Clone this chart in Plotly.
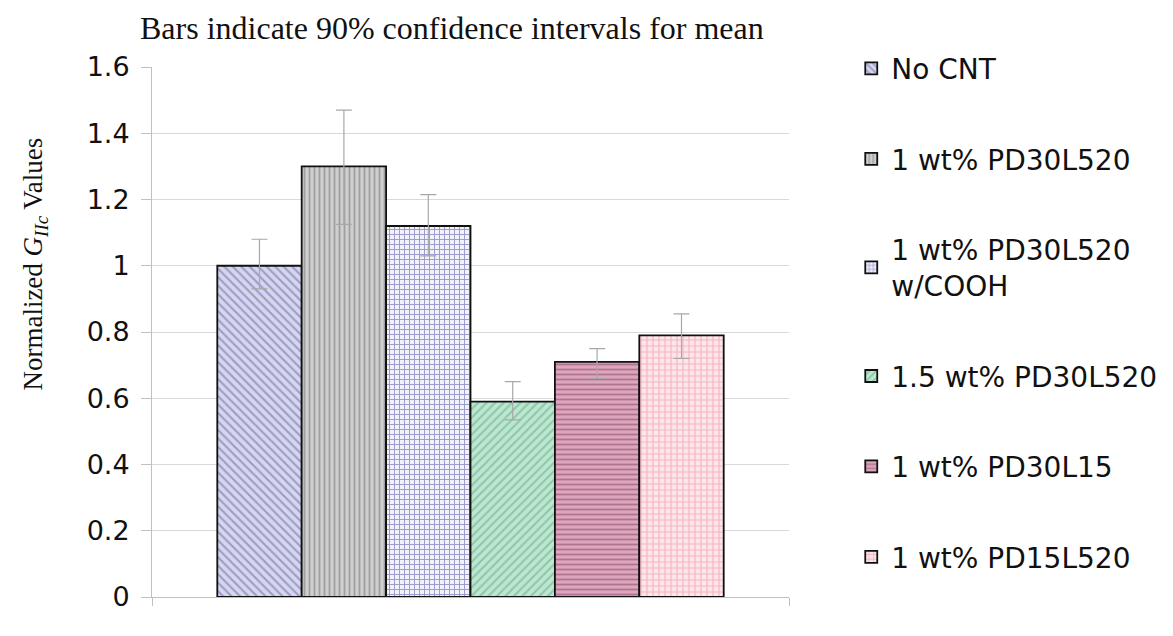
import plotly.graph_objects as go

categories = [0]
series_names = ["No CNT", "1 wt% PD30L520", "1 wt% PD30L520<br>w/COOH",
                "1.5 wt% PD30L520", "1 wt% PD30L15", "1 wt% PD15L520"]
means = [1.00, 1.30, 1.12, 0.59, 0.71, 0.79]
ci_plus = [0.08, 0.17, 0.095, 0.06, 0.04, 0.065]
ci_minus = [0.07, 0.175, 0.09, 0.055, 0.05, 0.07]
y_ticks = [0, 0.2, 0.4, 0.6, 0.8, 1, 1.2, 1.4, 1.6]

bg_colors = ["#d6d6ec", "#cfcfcf", "#f2f2fb", "#bfe6d2", "#dba6be", "#fde6ea"]
fg_colors = ["#9c9cc8", "#9e9e9e", "#9a9acc", "#8acaa8", "#b3728f", "#f5b5c0"]
shapes = ["\\", "|", "+", "/", "-", "+"]
sizes = [6, 5, 5, 6, 5, 6]

fig = go.Figure()
for i, name in enumerate(series_names):
    fig.add_trace(go.Bar(
        x=categories, y=[means[i]], name=name, legendgroup=str(i),
        marker=dict(
            color=bg_colors[i],
            line=dict(color="#111111", width=1.8),
            pattern=dict(shape=shapes[i], bgcolor=bg_colors[i], fgcolor=fg_colors[i],
                         size=sizes[i], solidity=0.35, fillmode="replace"),
        ),
        error_y=dict(type="data", symmetric=False, array=[ci_plus[i]], arrayminus=[ci_minus[i]],
                     color="#a8a8a8", thickness=1.2, width=8),
    ))

fig.update_layout(
    width=1165, height=628,
    paper_bgcolor="white", plot_bgcolor="white",
    margin=dict(l=144, r=383, t=59, b=39),
    barmode="group", bargap=0.205, bargroupgap=0,
    title=dict(text="Bars indicate 90% confidence intervals for mean",
               font=dict(family="Liberation Serif, Times New Roman, serif", size=32, color="#111"),
               x=0.381, xanchor="center", y=0.968, yanchor="middle", xref="container"),
    legend=dict(x=1.096, xanchor="left", y=1.044, yanchor="top",
                font=dict(family="DejaVu Sans, sans-serif", size=28, color="#111"),
                traceorder="grouped", tracegroupgap=51, itemwidth=30,
                bgcolor="rgba(0,0,0,0)", maxheight=1),
    showlegend=True,
    annotations=[dict(
        text="Normalized <i>G</i><sub><i>IIc</i></sub> Values",
        xref="paper", yref="paper", x=-0.183, y=0.628, xanchor="center", yanchor="middle",
        textangle=-90, showarrow=False,
        font=dict(family="Liberation Serif, Times New Roman, serif", size=27, color="#111"),
    )],
)
fig.update_yaxes(
    range=[0, 1.6], tickvals=y_ticks, ticktext=[f"{v:g}" for v in y_ticks],
    showgrid=True, gridcolor="#d9d9d9", gridwidth=1,
    showline=True, linecolor="#c0c0c0", linewidth=1,
    ticks="outside", ticklen=10, tickcolor="#c0c0c0",
    ticklabelstandoff=6,
    tickfont=dict(family="DejaVu Sans, sans-serif", size=27, color="#111"),
    zeroline=False,
)
fig.update_xaxes(
    type="linear", range=[-0.5, 0.5], tickvals=[-0.5, 0.5],
    showline=True, linecolor="#c0c0c0", linewidth=1, showticklabels=False,
    ticks="outside", ticklen=8, tickcolor="#c0c0c0", showgrid=False, zeroline=False,
)

fig.write_html("out.html")
